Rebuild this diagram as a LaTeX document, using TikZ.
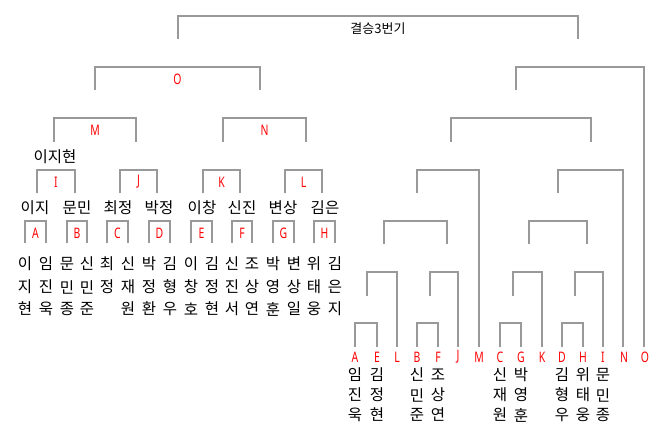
\documentclass[tikz,border=0pt]{standalone}
\usepackage{fontspec}
\setmainfont{Noto Sans CJK KR}
\newfontfamily\tagfont[FakeStretch=0.72]{Noto Sans}
\definecolor{linegray}{RGB}{153,153,153}
\definecolor{tagred}{RGB}{255,0,0}
\begin{document}
\begin{tikzpicture}[x=1pt,y=-1pt,
  bline/.style={draw=linegray,line width=1.8pt},
  tag/.style={text=tagred,font=\tagfont\fontsize{14.5}{14.5}\selectfont,inner sep=0pt},
  word/.style={font=\fontsize{15.5}{15.5}\selectfont,inner sep=0pt}]

\useasboundingbox (0,0) rectangle (660,426);

\coordinate (F1) at (178,39);
\coordinate (F2) at (578,39);
\coordinate (FT) at (378,16);
\draw[bline] (F1) |- (FT) -| (F2);
\node[font=\fontsize{13}{13}\selectfont,inner sep=0pt] (final) at (378,29) {결승3번기};

\foreach \n/\l/\r/\t/\b in {O/95/260/67/90, M/54/136/118/142, N/223/306/118/142,
  I/37/75/170/193, J/120/157/170/193, K/203/240/170/193, L/285/322/170/193,
  A/25/46/221/243, B/67/87/221/243, C/107/128/221/243, D/149/170/221/243,
  E/191/212/221/243, F/232/252/221/243, G/273/294/221/243, H/314/335/221/243}
{
  \coordinate (L\n) at (\l,\b);
  \coordinate (R\n) at (\r,\b);
  \coordinate (T\n) at ({(\l+\r)/2},\t);
  \draw[bline] (L\n) |- (T\n) -| (R\n);
  \node[tag] (\n) at ({(\l+\r)/2},\t+12) {\n};
}

\node[word] (winner) at (55,157) {이지현};

\foreach \x/\w in {35/이지, 77/문민, 118/최정, 159/박정, 202/이창, 242/신진, 283/변상, 325/김은}
{
  \node[word] (w\x) at (\x,208) {\w};
}

\foreach \x/\a/\b/\c in {25/이/지/현, 46/임/진/욱, 67/문/민/종, 87/신/민/준, 128/신/재/원,
  149/박/정/환, 170/김/형/우, 191/이/창/호, 212/김/정/현, 232/신/진/서, 252/조/상/연,
  273/박/영/훈, 294/변/상/일, 314/위/태/웅, 335/김/은/지}
{
  \node[word] (p\x a) at (\x,264) {\a};
  \node[word] (p\x b) at (\x,287) {\b};
  \node[word] (p\x c) at (\x,309) {\c};
}
\node[word] (p107a) at (107,264) {최};
\node[word] (p107b) at (107,287) {정};

\foreach \l/\r/\t/\bl/\br [count=\i] in {355/377/323/347/347, 417/438/323/347/347,
  500/521/323/347/347, 562/583/323/347/347,
  367/397/272/296/347, 430/458/272/296/347, 513/542/272/296/347, 575/603/272/296/347,
  384/447/221/244/244, 529/587/221/244/244,
  417/479/170/193/347, 558/623/170/193/347,
  451/591/118/142/142, 516/644/67/90/347}
{
  \coordinate (QL\i) at (\l,\bl);
  \coordinate (QR\i) at (\r,\br);
  \coordinate (QT\i) at ({(\l+\r)/2},\t);
  \draw[bline] (QL\i) |- (QT\i) -| (QR\i);
}

\foreach \n/\x in {A/355, E/377, L/397, B/417, F/438, J/458, M/479, C/500,
  G/521, K/542, D/562, H/583, I/603, N/624, O/645}
{
  \node[tag] (q\n) at (\x,357) {\n};
}

\foreach \x/\a/\b/\c in {355/임/진/욱, 377/김/정/현, 417/신/민/준, 438/조/상/연,
  500/신/재/원, 521/박/영/훈, 562/김/형/우, 583/위/태/웅, 603/문/민/종}
{
  \node[word] (s\x a) at (\x,375) {\a};
  \node[word] (s\x b) at (\x,395) {\b};
  \node[word] (s\x c) at (\x,415) {\c};
}

\end{tikzpicture}
\end{document}
